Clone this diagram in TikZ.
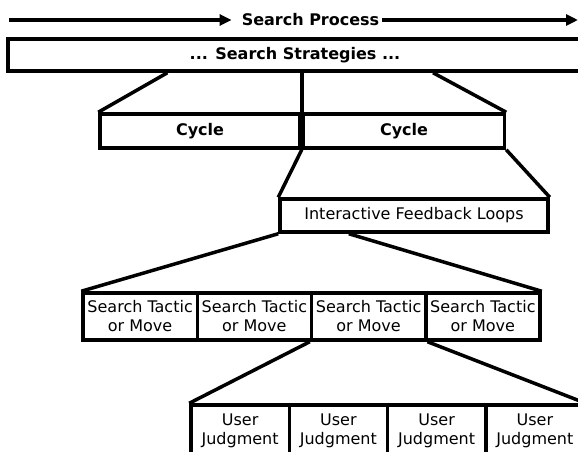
\documentclass[tikz,border=0pt]{standalone}
\usepackage{fontspec}
\setmainfont{DejaVu Sans}
\usetikzlibrary{arrows.meta,calc}
\tikzset{
	kasten/.style={draw,line width=3.5pt,inner sep=0pt,align=center,font=\fontsize{16}{19}\selectfont},
	fett/.style={font=\fontsize{16}{19}\selectfont\bfseries},
	linie/.style={line width=3.5pt},
	pfeil/.style={line width=3.5pt,-{Triangle[length=12pt,width=11pt]}},
}
\begin{document}
\begin{tikzpicture}[x=1pt,y=-1pt]
		\useasboundingbox (0,0) rectangle (578,452);
		% Suchprozess
		\node[fett,inner sep=0pt] (proz) at (310.5,20) {Search Process};
		\coordinate (pa) at (9,20);
		\coordinate (pe) at (578,20);
		\draw[pfeil,shorten >=10pt] (pa) -- (proz.west);
		\draw[pfeil,shorten <=3pt] (proz.east) -- (pe);
		% Strategien
		\node[kasten,fett,minimum width=574pt,minimum height=32pt] (strat) at (295,55) {... Search Strategies ...};
		% Zyklen
		\node[kasten,fett,minimum width=200pt,minimum height=34pt] (zyk1) at (200,131) {Cycle};
		\node[kasten,fett,minimum width=201pt,minimum height=34pt,anchor=west] (zyk2) at (zyk1.east) {Cycle};
		\draw[linie] ($(strat.south west)!0.279!(strat.south east)$) -- (zyk1.north west);
		\draw[linie] (strat.south -| zyk1.east) -- (zyk1.south east);
		\draw[linie] ($(strat.south west)!0.739!(strat.south east)$) -- (zyk2.north east);
		% Rueckkopplung
		\node[kasten,minimum width=268pt,minimum height=33pt] (loop) at (414,215.5) {Interactive Feedback Loops};
		\draw[linie] (zyk2.south west) -- (loop.north west);
		\draw[linie] (zyk2.south east) -- (loop.north east);
		% Taktiken
		\foreach \i in {1,...,4}
			\node[kasten,minimum width=114.25pt,minimum height=47pt] (tak\i) at ({83+114.25*(\i-0.5)},316.5) {Search Tactic\\or Move};
		\draw[linie] (loop.south west) -- (tak1.north west);
		\draw[linie] ($(loop.south west)!0.26!(loop.south east)$) -- (tak4.north east);
		% Urteile
		\foreach \i in {1,...,4}
			\node[kasten,minimum width=98.25pt,minimum height=52pt] (urt\i) at ({191+98.25*(\i-0.5)},431) {User\\Judgment};
		\draw[linie] (tak3.south west) -- (urt1.north west);
		\draw[linie] (tak3.south east) -- (urt4.north east);
	\end{tikzpicture}
\end{document}
